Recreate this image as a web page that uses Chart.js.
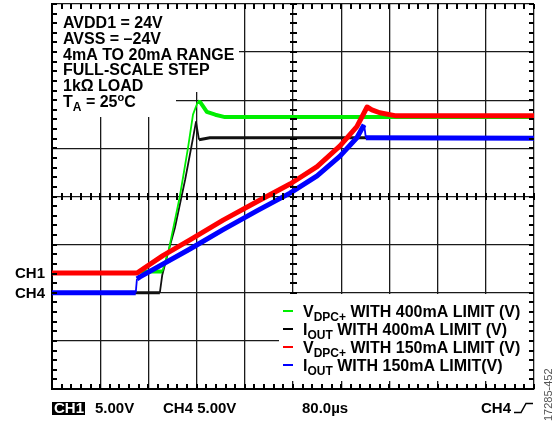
<!DOCTYPE html>
<html>
<head>
<meta charset="utf-8">
<script src="https://cdn.jsdelivr.net/npm/chart.js@4.4.0/dist/chart.umd.min.js"></script>
<style>
body { margin: 0; background: #fff; }
</style>
</head>
<body>
<canvas id="myChart" width="552" height="421"></canvas>
<script>
// time in us (80us/div, 10 div), level in screen divisions (0..8 from bottom)
const greenT = [0, 141, 146, 183, 194, 212, 226, 234, 242, 246, 257, 271, 287, 345, 800];
const greenV = [2.41, 2.41, 2.44, 2.44, 2.9, 3.99, 5.03, 5.7, 5.97, 5.96, 5.76, 5.7, 5.65, 5.65, 5.65];

const blackT = [0, 179, 183, 193, 204, 221, 231, 239, 244, 262, 521, 800];
const blackV = [2.0, 2.0, 2.37, 2.85, 3.35, 4.35, 5.01, 5.55, 5.18, 5.22, 5.22, 5.22];

const redT = [0, 141, 184, 229, 284, 340, 395, 440, 478, 506, 523, 531, 544, 569, 800];
const redV = [2.41, 2.41, 2.77, 3.1, 3.51, 3.89, 4.26, 4.62, 5.05, 5.45, 5.86, 5.8, 5.74, 5.68, 5.68];

const blueT = [0, 139, 141, 146, 229, 284, 340, 395, 440, 478, 506, 518, 521, 800];
const blueV = [2.0, 2.0, 2.29, 2.33, 2.91, 3.31, 3.7, 4.07, 4.43, 4.84, 5.22, 5.49, 5.22, 5.21];

const legendMain = ["V", "I", "V", "I"];
const legendSub = ["DPC+", "OUT", "DPC+", "OUT"];
const legendRest = [" WITH 400mA LIMIT (V)", " WITH 400mA LIMIT (V)", " WITH 150mA LIMIT (V)", " WITH 150mA LIMIT(V)"];
const legendColors = ["#00ee00", "#000000", "#ff0000", "#0000ff"];

const noteLines = ["AVDD1 = 24V", "AVSS = \u201324V", "4mA TO 20mA RANGE", "FULL-SCALE STEP", "1k\u03a9 LOAD"];

const FONT = '"Liberation Sans", Arial, sans-serif';

function pts(t, v) {
    var out = [];
    for (let i = 0; i < t.length; i++) {
	out.push({x: t[i], y: v[i]});
    }
    return out;
}

// fast edges are drawn thin, like on the scope screen
function edgeWidth(normal) {
    return function (c) {
	const dx = Math.abs(c.p1.x - c.p0.x), dy = Math.abs(c.p1.y - c.p0.y);
	return dy > 2.5 * dx ? 1.8 : normal;
    };
}

function runs(g, x, y, list) {
    // list: [text, size, dy]
    list.forEach(function (r) {
	g.font = "bold " + r[1] + "px " + FONT;
	g.fillText(r[0], x, y + r[2]);
	x += g.measureText(r[0]).width;
    });
    return x;
}

const scopeDecor = {
    id: "scopeDecor",
    beforeDatasetsDraw(chart) {
	const g = chart.ctx;
	const a = chart.chartArea;
	g.save();
	// white boxes behind the notes and legend
	g.fillStyle = "#fff";
	g.fillRect(a.left + 1, a.top + 1, 186, 87);
	g.fillRect(a.left + 1, a.top + 87, 123, 26);
	g.fillRect(279, 294, 250, 87);

	// notes
	g.fillStyle = "#000";
	g.textBaseline = "alphabetic";
	g.font = "bold 16px " + FONT;
	for (let i = 0; i < noteLines.length; i++) {
	    g.fillText(noteLines[i], 63, 28 + i * 15.8);
	}
	runs(g, 63, 107, [["T", 16, 0], ["A", 12, 4], [" = 25", 16, 0], ["o", 11, -6], ["C", 16, 0]]);

	// legend
	for (let i = 0; i < legendMain.length; i++) {
	    const by = 317 + i * 18;
	    g.fillStyle = legendColors[i];
	    g.fillRect(283, by - 7, 10, 2);
	    g.fillStyle = "#000";
	    runs(g, 303, by, [[legendMain[i], 16, 0], [legendSub[i], 12, 4], [legendRest[i], 16, 0]]);
	}
	g.restore();
    },
    afterDraw(chart) {
	const g = chart.ctx;
	const xs = chart.scales.x, ys = chart.scales.y;
	const a = chart.chartArea;
	g.save();
	// minor ticks on the frame and the centre cross
	g.fillStyle = "#000";
	const cx = Math.round(xs.getPixelForValue(400));
	const cy = Math.round(ys.getPixelForValue(4));
	for (let i = 0; i <= 40; i++) {
	    const py = Math.round(ys.getPixelForValue(i * 0.2));
	    if (py <= 293) g.fillRect(cx - 3, py - 1, 7, 2);
	    g.fillRect(a.left, py - 1, 5, 2);
	    g.fillRect(a.right - 5, py - 1, 5, 2);
	}
	for (let i = 0; i <= 50; i++) {
	    const px = Math.round(xs.getPixelForValue(i * 16));
	    g.fillRect(px - 1, cy - 4, 2, 7);
	    g.fillRect(px - 1, a.top, 2, 5);
	    g.fillRect(px - 1, a.bottom - 5, 2, 5);
	}

	g.font = "bold 15px " + FONT;
	g.fillText("CH1", 15, 278);
	g.fillText("CH4", 15, 298);
	// bottom readout
	g.fillRect(52, 402, 33, 13);
	g.fillStyle = "#fff";
	g.fillText("CH1", 54, 413);
	g.fillStyle = "#000";
	g.fillText("5.00V", 95, 413);
	g.fillText("CH4 5.00V", 163, 413);
	g.fillText("80.0\u00b5s", 302, 413);
	g.fillText("CH4", 481, 413);
	g.strokeStyle = "#000";
	g.lineWidth = 1.5;
	g.beginPath();
	g.moveTo(514, 412.5); g.lineTo(521, 412.5); g.lineTo(526, 403.5); g.lineTo(533, 403.5);
	g.stroke();
	// figure id
	g.translate(552, 421);
	g.rotate(-Math.PI / 2);
	g.fillStyle = "#555";
	g.font = "11px " + FONT;
	g.fillText("17285-452", 0, 0);
	g.restore();
    }
};

const ctx = document.getElementById("myChart").getContext("2d");
window.myChart = new Chart(ctx, {
    type: "line",
    data: {
	datasets: [
	    { label: "VDPC+ WITH 400mA LIMIT (V)", data: pts(greenT, greenV), borderColor: "#00ee00", borderWidth: 4, order: 3,
	      segment: { borderWidth: edgeWidth(4) } },
	    { label: "IOUT WITH 400mA LIMIT (V)", data: pts(blackT, blackV), borderColor: "#111111", borderWidth: 3, order: 4,
	      segment: { borderWidth: edgeWidth(3) } },
	    { label: "VDPC+ WITH 150mA LIMIT (V)", data: pts(redT, redV), borderColor: "#ff0000", borderWidth: 5, order: 1,
	      segment: { borderWidth: edgeWidth(5) } },
	    { label: "IOUT WITH 150mA LIMIT(V)", data: pts(blueT, blueV), borderColor: "#0000ff", borderWidth: 5, order: 2,
	      segment: { borderWidth: edgeWidth(5) } },
	]
    },
    options: {
	responsive: false,
	animation: false,
	layout: { padding: { left: 52, top: 4, right: 18, bottom: 32 } },
	elements: { point: { radius: 0 }, line: { tension: 0, borderJoinStyle: "round" } },
	plugins: { legend: { display: false }, tooltip: { enabled: false } },
	scales: {
	    x: {
		type: "linear", min: 0, max: 800,
		ticks: { display: false, stepSize: 80 },
		grid: { color: "#1a1a1a", lineWidth: 1.3, drawTicks: false },
		border: { color: "#000", width: 2 }
	    },
	    y: {
		min: 0, max: 8,
		ticks: { display: false, stepSize: 1 },
		grid: { color: "#1a1a1a", lineWidth: 1.3, drawTicks: false },
		border: { color: "#000", width: 2 }
	    }
	}
    },
    plugins: [scopeDecor]
});
</script>
</body>
</html>
